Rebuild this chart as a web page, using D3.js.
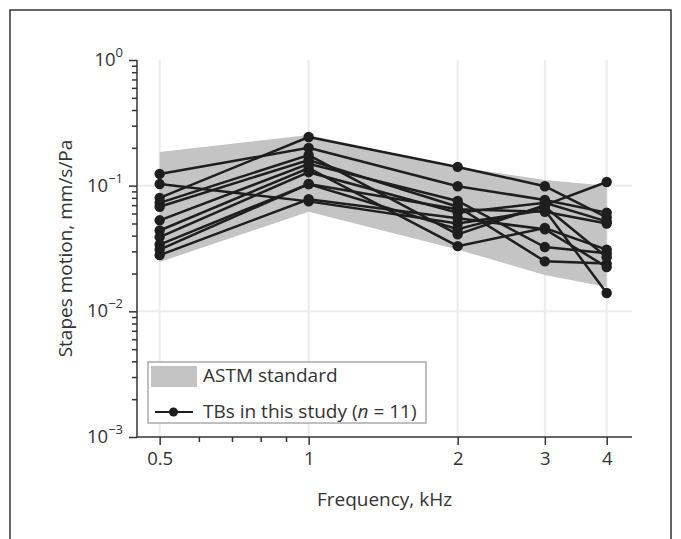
<!DOCTYPE html>
<html>
<head>
<meta charset="utf-8">
<script src="https://cdn.jsdelivr.net/npm/d3@7"></script>
<style>
  body { margin: 0; background: #fff; }
  svg { display: block; font-family: "Open Sans", sans-serif; }
</style>
</head>
<body>
<svg id="chart" width="681" height="539"></svg>
<script>
// frequencies, kHz
const freqs = [0.5, 1, 2, 3, 4];

// ASTM standard range (upper / lower), mm/s/Pa
const astmUpper = [0.185, 0.253, 0.141, 0.111, 0.1];
const astmLower = [0.0247, 0.062, 0.031, 0.0195, 0.0156];

// stapes velocity of each temporal bone, mm/s/Pa
const tb1 = [0.08, 0.244, 0.141, 0.099, 0.056];
const tb2 = [0.124, 0.2, 0.099, 0.077, 0.061];
const tb3 = [0.103, 0.075, 0.05, 0.064, 0.014];
const tb4 = [0.073, 0.175, 0.041, 0.07, 0.107];
const tb5 = [0.068, 0.16, 0.068, 0.025, 0.024];
const tb6 = [0.053, 0.149, 0.0755, 0.0325, 0.029];
const tb7 = [0.044, 0.138, 0.033, 0.046, 0.031];
const tb8 = [0.039, 0.128, 0.061, 0.073, 0.052];
const tb9 = [0.034, 0.103, 0.065, 0.062, 0.05];
const tb10 = [0.031, 0.103, 0.045, 0.068, 0.027];
const tb11 = [0.028, 0.078, 0.055, 0.045, 0.0225];
const bones = [tb1, tb2, tb3, tb4, tb5, tb6, tb7, tb8, tb9, tb10, tb11];

const xTicks = [0.5, 1, 2, 3, 4];
const xMinor = [0.6, 0.7, 0.8, 0.9];
const yTicks = [1e-3, 1e-2, 1e-1, 1];
const yExp = ['\u22123', '\u22122', '\u22121', '0'];

const svg = d3.select('#chart');
const x = d3.scaleLog().domain([0.45, 4.5]).range([137, 632]);
const y = d3.scaleLog().domain([1e-3, 1]).range([437, 60]);

// outer frame
svg.append('rect')
  .attr('x', 10).attr('y', 10)
  .attr('width', 661).attr('height', 600)
  .attr('fill', 'none')
  .attr('stroke', '#333')
  .attr('stroke-width', 1.5);

// grid
const grid = svg.append('g');
grid.selectAll('line.v')
  .data(xTicks)
  .join('line')
  .attr('class', 'v')
  .attr('x1', d => x(d)).attr('x2', d => x(d))
  .attr('y1', y(1)).attr('y2', y(1e-3))
  .attr('stroke', '#ececec')
  .attr('stroke-width', 2);
grid.selectAll('line.h')
  .data([1e-2, 1e-1])
  .join('line')
  .attr('class', 'h')
  .attr('x1', x(0.45)).attr('x2', x(4.5))
  .attr('y1', d => y(d)).attr('y2', d => y(d))
  .attr('stroke', '#ececec')
  .attr('stroke-width', 2);

// ASTM band
const area = d3.area()
  .x((d, i) => x(freqs[i]))
  .y0((d, i) => y(astmLower[i]))
  .y1(d => y(d));
svg.append('path')
  .datum(astmUpper)
  .attr('d', area)
  .attr('fill', '#c4c4c4');

// bones
const line = d3.line()
  .x((d, i) => x(freqs[i]))
  .y(d => y(d));
const lineG = svg.append('g');
lineG.selectAll('path')
  .data(bones)
  .join('path')
  .attr('d', line)
  .attr('fill', 'none')
  .attr('stroke', '#1e1e1e')
  .attr('stroke-width', 2.5);
bones.forEach(b => {
  lineG.append('g')
    .selectAll('circle')
    .data(b)
    .join('circle')
    .attr('cx', (d, i) => x(freqs[i]))
    .attr('cy', d => y(d))
    .attr('r', 5.2)
    .attr('fill', '#1e1e1e');
});

// x axis
const xAxis = svg.append('g')
  .attr('transform', `translate(0,${y(1e-3)})`)
  .call(d3.axisBottom(x).tickValues(xTicks).tickFormat(d3.format('')).tickSize(8).tickPadding(7));
svg.append('g')
  .attr('transform', `translate(0,${y(1e-3)})`)
  .call(d3.axisBottom(x).tickValues(xMinor).tickFormat('').tickSize(5))
  .select('.domain').remove();
xAxis.select('.domain').attr('d', `M${x(0.45)},0H${x(4.5)}`);

// y axis
const yAxis = svg.append('g')
  .attr('transform', `translate(${x(0.45)},0)`)
  .call(d3.axisLeft(y).tickValues(yTicks).tickFormat('').tickSize(8));
const yMinor = [];
[1e-3, 1e-2, 1e-1].forEach(b => [2, 3, 4, 5, 6, 7, 8, 9].forEach(m => yMinor.push(b * m)));
svg.append('g')
  .attr('transform', `translate(${x(0.45)},0)`)
  .call(d3.axisLeft(y).tickValues(yMinor).tickFormat('').tickSize(5))
  .select('.domain').remove();
yAxis.select('.domain').attr('d', `M0,${y(1)}V${y(1e-3)}`);

svg.selectAll('.tick line, .domain')
  .attr('stroke', '#333')
  .attr('stroke-width', 1.5);
xAxis.selectAll('text')
  .attr('font-size', 18.5)
  .attr('fill', '#333')
  .attr('font-family', '"Open Sans", sans-serif');

// y tick labels 10^n
const yLab = svg.append('g');
yTicks.forEach((t, i) => {
  const tx = yLab.append('text')
    .attr('x', 123)
    .attr('y', y(t) + 6)
    .attr('text-anchor', 'end')
    .attr('font-size', 18.5)
    .attr('fill', '#333');
  tx.append('tspan').text('10');
  tx.append('tspan').attr('dy', -9).attr('font-size', 13).text(yExp[i]);
});

// axis titles
svg.append('text')
  .attr('x', (x(0.45) + x(4.5)) / 2)
  .attr('y', 506)
  .attr('text-anchor', 'middle')
  .attr('font-size', 19)
  .attr('fill', '#333')
  .text('Frequency, kHz');
svg.append('text')
  .attr('transform', `translate(72,${(y(1) + y(1e-3)) / 2}) rotate(-90)`)
  .attr('text-anchor', 'middle')
  .attr('font-size', 19)
  .attr('fill', '#333')
  .text('Stapes motion, mm/s/Pa');

// legend
const leg = svg.append('g');
leg.append('rect')
  .attr('x', 148).attr('y', 362)
  .attr('width', 278).attr('height', 61)
  .attr('fill', '#fff')
  .attr('stroke', '#aaa')
  .attr('stroke-width', 1.5);
leg.append('rect')
  .attr('x', 151).attr('y', 366)
  .attr('width', 46).attr('height', 21)
  .attr('fill', '#c4c4c4');
leg.append('text')
  .attr('x', 203).attr('y', 382)
  .attr('font-size', 19)
  .attr('fill', '#333')
  .text('ASTM standard');
leg.append('line')
  .attr('x1', 155).attr('x2', 193)
  .attr('y1', 412).attr('y2', 412)
  .attr('stroke', '#1e1e1e')
  .attr('stroke-width', 2);
leg.append('circle')
  .attr('cx', 173.5).attr('cy', 412)
  .attr('r', 4.5)
  .attr('fill', '#1e1e1e');
const lt = leg.append('text')
  .attr('x', 203).attr('y', 418)
  .attr('font-size', 19)
  .attr('fill', '#333');
lt.append('tspan').text('TBs in this study (');
lt.append('tspan').attr('font-style', 'italic').text('n');
lt.append('tspan').text(' = 11)');
</script>
</body>
</html>
